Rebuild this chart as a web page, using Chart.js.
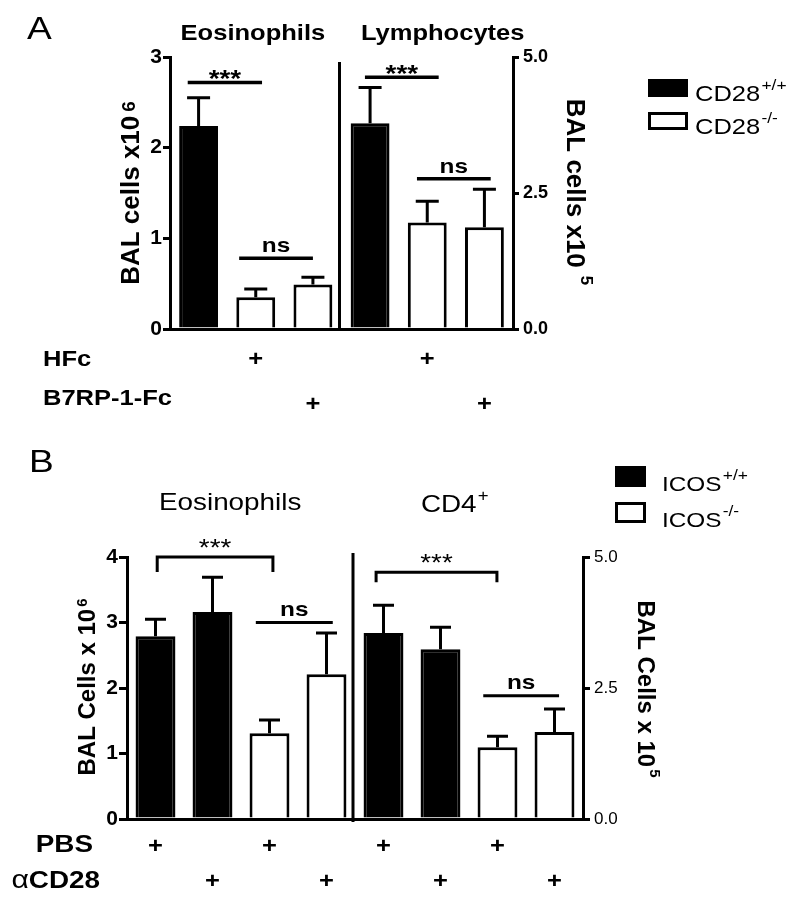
<!DOCTYPE html>
<html>
<head>
<meta charset="utf-8">
<script src="https://cdn.jsdelivr.net/npm/chart.js@4.4.1/dist/chart.umd.min.js"></script>
<style>
  body { margin: 0; background: #fff; }
  #wrap { position: relative; width: 800px; height: 902px; }
  #chartA { position: absolute; left: 0; top: 0; }
  #chartB { position: absolute; left: 0; top: 420px; }
</style>
</head>
<body>
<div id="wrap">
  <canvas id="chartA" width="800" height="420"></canvas>
  <canvas id="chartB" width="800" height="482"></canvas>
</div>
<script>
const FONT = '"Liberation Sans", Arial, Helvetica, sans-serif';
const NARROW = '"Liberation Sans Narrow", "Liberation Sans", Arial, sans-serif';
const SX = 1.16; // the figure's lettering is a little wide

// ---------- panel A data ----------
const groupsA = ['Eosinophils', 'Lymphocytes'];
const categoriesA = ['CD28+/+', 'CD28-/- HFc', 'CD28-/- B7RP-1-Fc', 'CD28+/+', 'CD28-/- HFc', 'CD28-/- B7RP-1-Fc'];
const genotypeA = ['+/+', '-/-', '-/-', '+/+', '-/-', '-/-'];
const eosMeanA = [2.24, 0.35, 0.49];
const eosSemA = [0.31, 0.09, 0.08];
const lymMeanA = [3.78, 1.96, 1.87];
const lymSemA = [0.66, 0.39, 0.70];
const hfcA = ['', '+', '', '', '+', ''];
const b7rpA = ['', '', '+', '', '', '+'];
const leftTicksA = [0, 1, 2, 3];
const rightTicksA = [0, 2.5, 5];

// ---------- panel B data ----------
const groupsB = ['Eosinophils', 'CD4'];
const categoriesB = ['ICOS+/+ PBS', 'ICOS+/+ aCD28', 'ICOS-/- PBS', 'ICOS-/- aCD28',
                     'ICOS+/+ PBS', 'ICOS+/+ aCD28', 'ICOS-/- PBS', 'ICOS-/- aCD28'];
const genotypeB = ['+/+', '+/+', '-/-', '-/-', '+/+', '+/+', '-/-', '-/-'];
const eosMeanB = [2.79, 3.16, 1.31, 2.21];
const eosSemB = [0.26, 0.53, 0.20, 0.63];
const cd4MeanB = [3.55, 3.24, 1.37, 1.66];
const cd4SemB = [0.53, 0.42, 0.21, 0.44];
const pbsB = ['+', '', '+', '', '+', '', '+', ''];
const acd28B = ['', '+', '', '+', '', '+', '', '+'];
const leftTicksB = [0, 1, 2, 3, 4];
const rightTicksB = [0, 2.5, 5];

// significance brackets (x in category units, y in axis units)
const bracketsA = [
  { axis: 'y', from: -0.19, to: 1.11, y: 2.72, label: '***' },
  { axis: 'y', from: 0.71, to: 2.0, y: 0.78, label: 'ns' },
  { axis: 'y1', from: 2.91, to: 4.2, y: 4.63, label: '***' },
  { axis: 'y1', from: 3.82, to: 5.11, y: 2.76, label: 'ns' }
];
const bracketsB = [
  { axis: 'y', from: 0.03, to: 2.06, y: 4.0, label: '***', drop: 15 },
  { axis: 'y', from: 1.76, to: 3.11, y: 3.0, label: 'ns' },
  { axis: 'y1', from: 3.87, to: 5.99, y: 4.71, label: '***', drop: 10 },
  { axis: 'y1', from: 5.75, to: 7.08, y: 2.35, label: 'ns' }
];

function fillFor(g) { return g === '+/+' ? '#000' : '#fff'; }
function blanks(n) { return new Array(n).fill(null); }

// text with optional superscripts; segs = [{t, font, dy, gap}]
function rich(ctx, x, y, segs, align, sx, rot) {
  ctx.save();
  ctx.translate(x, y);
  ctx.rotate(rot || 0);
  ctx.scale(sx || 1, 1);
  let w = 0;
  segs.forEach(s => { ctx.font = s.font; s.w = ctx.measureText(s.t).width + (s.gap || 0); w += s.w; });
  let cx = align === 'center' ? -w / 2 : align === 'right' ? -w : 0;
  ctx.fillStyle = '#000';
  ctx.textAlign = 'left';
  ctx.textBaseline = 'alphabetic';
  segs.forEach(s => { ctx.font = s.font; ctx.fillText(s.t, cx + (s.gap || 0), s.dy || 0); cx += s.w; });
  ctx.restore();
}

function drawErrors(chart, half) {
  const ctx = chart.ctx;
  ctx.save();
  ctx.strokeStyle = '#000';
  ctx.lineWidth = 3;
  chart.data.datasets.forEach((ds, di) => {
    const ys = chart.scales[ds.yAxisID];
    chart.getDatasetMeta(di).data.forEach((bar, i) => {
      if (ds.data[i] == null) return;
      const top = ys.getPixelForValue(ds.data[i] + ds.errors[i]);
      ctx.beginPath();
      ctx.moveTo(bar.x, bar.y);
      ctx.lineTo(bar.x, top);
      ctx.moveTo(bar.x - half, top);
      ctx.lineTo(bar.x + half, top);
      ctx.stroke();
    });
  });
  ctx.restore();
}

function drawBrackets(chart, list, o) {
  const ctx = chart.ctx, x = chart.scales.x;
  list.forEach(s => {
    const y = chart.scales[s.axis].getPixelForValue(s.y);
    const x0 = x.getPixelForValue(s.from), x1 = x.getPixelForValue(s.to);
    ctx.save();
    ctx.strokeStyle = '#000';
    ctx.lineWidth = o.lw;
    ctx.beginPath();
    if (s.drop) {
      ctx.moveTo(x0, y + s.drop); ctx.lineTo(x0, y); ctx.lineTo(x1, y); ctx.lineTo(x1, y + s.drop);
    } else {
      ctx.moveTo(x0, y); ctx.lineTo(x1, y);
    }
    ctx.stroke();
    ctx.restore();
    const star = s.label === '***';
    rich(ctx, (x0 + x1) / 2, y + (star ? o.starDy : o.nsDy),
      [{ t: s.label, font: star ? o.starFont : o.nsFont }], 'center', SX);
  });
}

function drawDivider(chart, i, top, extra) {
  const ctx = chart.ctx, x = chart.scales.x;
  const px = (x.getPixelForValue(i) + x.getPixelForValue(i + 1)) / 2 - 2;
  ctx.save();
  ctx.strokeStyle = '#000';
  ctx.lineWidth = 3;
  ctx.beginPath();
  ctx.moveTo(px, top);
  ctx.lineTo(px, chart.chartArea.bottom + extra);
  ctx.stroke();
  ctx.restore();
}

function drawRow(chart, label, marks, baseY, plusY) {
  const ctx = chart.ctx, x = chart.scales.x;
  rich(ctx, label.x, baseY, label.segs, label.align, SX);
  marks.forEach((m, i) => {
    if (!m) return;
    rich(ctx, x.getPixelForValue(i), plusY, [{ t: m, font: `bold 22px ${FONT}` }], 'center', SX);
  });
}

function drawLegend(ctx, x, ys, w, h, gap, texts, font, supFont, supDy) {
  ctx.save();
  ys.forEach((y, i) => {
    if (i === 0) {
      ctx.fillStyle = '#000';
      ctx.fillRect(x, y, w, h);
    } else {
      ctx.strokeStyle = '#000';
      ctx.lineWidth = 3;
      ctx.strokeRect(x + 1.5, y + 1.5, w - 3, h - 3);
    }
  });
  ctx.restore();
  texts.forEach((t, i) => {
    rich(ctx, x + w + gap, ys[i] + h + 4, [
      { t: t[0], font: font },
      { t: t[1], font: supFont, dy: supDy, gap: 1 }
    ], 'left', SX);
  });
}

function yAxis(pos, ticks, width, font, tickLen, pad, fmt) {
  return {
    position: pos,
    min: ticks[0],
    max: ticks[ticks.length - 1],
    afterBuildTicks: s => { s.ticks = ticks.map(v => ({ value: v })); },
    afterFit: s => { s.width = width; },
    grid: { display: true, drawOnChartArea: false, drawTicks: true, tickLength: tickLen, lineWidth: 3, color: '#000' },
    border: { display: true, width: 3, color: '#000' },
    ticks: { color: '#000', font: font, padding: pad, callback: fmt }
  };
}

function xAxis(height) {
  return {
    offset: true,
    afterFit: s => { s.height = height; },
    grid: { display: false },
    border: { display: true, width: 3, color: '#000' },
    ticks: { display: false }
  };
}

// ---------- panel A ----------
const canvasA = document.getElementById('chartA');

const decorA = {
  id: 'decorA',
  afterDatasetsDraw(chart) { drawErrors(chart, 11.5); },
  afterDraw(chart) {
    const ctx = chart.ctx, x = chart.scales.x;
    rich(ctx, 27, 39, [{ t: 'A', font: `32px ${FONT}` }], 'left', SX);
    rich(ctx, x.getPixelForValue(0.95), 40, [{ t: groupsA[0], font: `bold 22px ${FONT}` }], 'center', SX);
    rich(ctx, x.getPixelForValue(4.27), 40, [{ t: groupsA[1], font: `bold 22px ${FONT}` }], 'center', SX);
    drawDivider(chart, 2, 62, 0);
    drawBrackets(chart, bracketsA, {
      lw: 3.5, starFont: `bold 24px ${FONT}`, nsFont: `bold 21px ${FONT}`, starDy: 5, nsDy: -6
    });
    // axis titles
    rich(ctx, 139, 193, [
      { t: 'BAL cells x10', font: `bold 26px ${FONT}` },
      { t: '6', font: `bold 19px ${FONT}`, dy: -4, gap: 4 }
    ], 'center', 1, -Math.PI / 2);
    rich(ctx, 567, 192, [
      { t: 'BAL cells x10', font: `bold 26px ${FONT}` },
      { t: '5', font: `bold 17px ${FONT}`, dy: -14, gap: 8 }
    ], 'center', 1, Math.PI / 2);
    drawLegend(ctx, 648, [79, 112], 40, 18, 7,
      [['CD28', '+/+'], ['CD28', '-/-']], `22px ${FONT}`, `15px ${FONT}`, -11);
    drawRow(chart, { x: 43, align: 'left', segs: [{ t: 'HFc', font: `bold 22px ${FONT}` }] }, hfcA, 366, 366);
    drawRow(chart, { x: 43, align: 'left', segs: [{ t: 'B7RP-1-Fc', font: `bold 22px ${FONT}` }] }, b7rpA, 405, 411);
  }
};

const chartA = new Chart(canvasA, {
  type: 'bar',
  data: {
    labels: categoriesA,
    datasets: [
      { label: groupsA[0], data: [...eosMeanA, ...blanks(3)], errors: [...eosSemA, ...blanks(3)], yAxisID: 'y' },
      { label: groupsA[1], data: [...blanks(3), ...lymMeanA], errors: [...blanks(3), ...lymSemA], yAxisID: 'y1' }
    ].map(d => Object.assign(d, {
      backgroundColor: genotypeA.map(fillFor),
      borderColor: '#000',
      borderWidth: 3
    }))
  },
  options: {
    responsive: false,
    animation: false,
    layout: { padding: { top: 57 } },
    plugins: { legend: { display: false }, tooltip: { enabled: false } },
    datasets: { bar: { grouped: false, categoryPercentage: 1, barPercentage: 0.68 } },
    scales: {
      x: xAxis(91),
      y: yAxis('left', leftTicksA, 170, { family: FONT, size: 21, weight: 'bold' }, 7, 1, v => v),
      y1: yAxis('right', rightTicksA, 287, { family: FONT, size: 18, weight: 'bold' }, 6, 4, v => v.toFixed(1))
    }
  },
  plugins: [decorA]
});

// ---------- panel B ----------
const canvasB = document.getElementById('chartB');

const decorB = {
  id: 'decorB',
  afterDatasetsDraw(chart) { drawErrors(chart, 10.5); },
  afterDraw(chart) {
    const ctx = chart.ctx, x = chart.scales.x;
    rich(ctx, 29, 52, [{ t: 'B', font: `32px ${FONT}` }], 'left', SX);
    rich(ctx, x.getPixelForValue(1.31), 90, [{ t: groupsB[0], font: `24px ${FONT}` }], 'center', SX);
    rich(ctx, x.getPixelForValue(5.25), 92, [
      { t: groupsB[1], font: `24px ${FONT}` },
      { t: '+', font: `16px ${FONT}`, dy: -11, gap: 1 }
    ], 'center', SX);
    drawDivider(chart, 3, 133, 3);
    drawBrackets(chart, bracketsB, {
      lw: 3, starFont: `24px ${FONT}`, nsFont: `bold 21px ${FONT}`, starDy: -1, nsDy: -7
    });
    rich(ctx, 95, 267, [
      { t: 'BAL Cells x 10', font: `bold 24px ${FONT}` },
      { t: '6', font: `bold 15px ${FONT}`, dy: -8, gap: 2 }
    ], 'center', 1, -Math.PI / 2);
    rich(ctx, 638, 269, [
      { t: 'BAL Cells x 10', font: `bold 24px ${FONT}` },
      { t: '5', font: `bold 15px ${FONT}`, dy: -12, gap: 2 }
    ], 'center', 1, Math.PI / 2);
    drawLegend(ctx, 615, [46, 82], 31, 21, 16,
      [['ICOS', '+/+'], ['ICOS', '-/-']], `21px ${FONT}`, `15px ${FONT}`, -11);
    drawRow(chart, { x: 93, align: 'right', segs: [{ t: 'PBS', font: `bold 24px ${FONT}` }] }, pbsB, 432, 433);
    drawRow(chart, { x: 100, align: 'right', segs: [
      { t: 'α', font: `26px ${FONT}` },
      { t: 'CD28', font: `bold 24px ${FONT}` }
    ] }, acd28B, 468, 468);
  }
};

const chartB = new Chart(canvasB, {
  type: 'bar',
  data: {
    labels: categoriesB,
    datasets: [
      { label: groupsB[0], data: [...eosMeanB, ...blanks(4)], errors: [...eosSemB, ...blanks(4)], yAxisID: 'y' },
      { label: groupsB[1], data: [...blanks(4), ...cd4MeanB], errors: [...blanks(4), ...cd4SemB], yAxisID: 'y1' }
    ].map(d => Object.assign(d, {
      backgroundColor: genotypeB.map(fillFor),
      borderColor: '#000',
      borderWidth: 3
    }))
  },
  options: {
    responsive: false,
    animation: false,
    layout: { padding: { top: 137 } },
    plugins: { legend: { display: false }, tooltip: { enabled: false } },
    datasets: { bar: { grouped: false, categoryPercentage: 1, barPercentage: 0.7 } },
    scales: {
      x: xAxis(83),
      y: yAxis('left', leftTicksB, 127, { family: NARROW, size: 21, weight: 'bold' }, 8, 1, v => v),
      y1: yAxis('right', rightTicksB, 217, { family: FONT, size: 17 }, 7, 4, v => v.toFixed(1))
    }
  },
  plugins: [decorB]
});
</script>
</body>
</html>
